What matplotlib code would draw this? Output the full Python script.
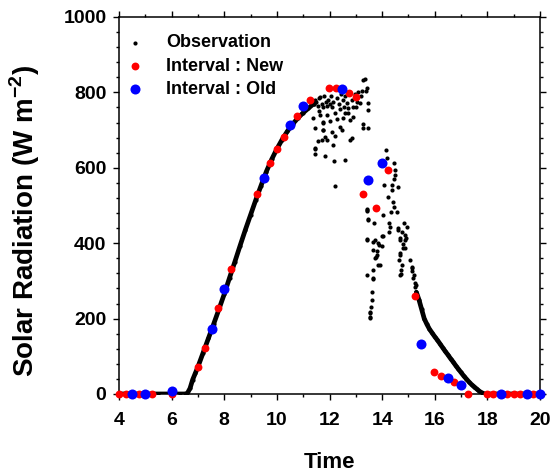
import matplotlib
matplotlib.use("Agg")
import matplotlib.pyplot as plt
from matplotlib.ticker import MultipleLocator

plt.rcParams['font.family'] = ['Liberation Sans', 'DejaVu Sans']
plt.rcParams['font.weight'] = 'bold'
plt.rcParams['mathtext.fontset'] = 'custom'
plt.rcParams['mathtext.bf'] = 'Liberation Sans:bold'
plt.rcParams['mathtext.rm'] = 'Liberation Sans:bold'

# --- Observation : parties continues (lecture du graphique) ---
rise_t = [4.0, 4.5, 5.0, 5.5, 6.0, 6.3, 6.5, 6.6, 6.7, 6.8, 6.9, 7.0, 7.2, 7.4, 7.6,
          7.8, 8.0, 8.2, 8.4, 8.6, 8.8, 9.0, 9.2, 9.4, 9.6, 9.8, 10.0, 10.2,
          10.4, 10.6, 10.8, 11.0, 11.2, 11.4]
rise_v = [0, 0, 0, 0, 0, 0, 0, 2, 15, 38, 55, 72, 110, 148, 186,
          225, 265, 308, 350, 393, 435, 475, 515, 553, 590, 622, 650, 675,
          697, 716, 732, 746, 758, 770]

fall_t = [15.3, 15.4, 15.5, 15.6, 15.7, 15.8, 15.9, 16.0, 16.1, 16.2, 16.3, 16.4,
          16.5, 16.6, 16.7, 16.8, 16.9, 17.0, 17.1, 17.2, 17.3, 17.4, 17.5,
          17.6, 17.7, 17.8, 17.9, 18.2, 18.6, 19.0, 19.5, 20.0]
fall_v = [270, 250, 225, 200, 185, 172, 162, 152, 143, 133, 123, 113,
          104, 94, 85, 75, 66, 57, 48, 40, 32, 25, 19,
          13, 7, 3, 0, 0, 0, 0, 0, 0]

# --- Observation : nuages de points ---
scat_t = [11.4, 11.45, 11.5, 11.55, 11.6, 11.64, 11.7, 11.75, 11.8, 11.85, 11.9, 11.95,
          12.0, 12.05, 12.1, 12.15, 12.2, 12.3, 12.35, 12.38, 12.45, 12.5, 12.55, 12.6,
          12.65, 12.7, 12.72, 12.85, 12.9, 12.95, 13.05, 13.1, 13.16, 13.2, 13.25, 13.29,
          13.33, 13.39, 13.41, 13.45, 13.48, 13.26, 13.47, 13.29,
          11.39, 11.64, 11.77, 11.45, 11.77, 11.83, 11.70, 11.45, 11.45, 11.45, 11.55,
          11.89, 11.83, 11.74, 11.74, 12.08, 12.15, 12.21, 12.18, 12.4, 12.46, 12.52,
          12.59, 12.78, 12.84, 12.78, 12.21, 11.6, 11.9, 12.0, 12.3, 12.6, 12.9, 13.0,
          13.41, 13.44, 13.47, 13.41, 13.47, 13.69, 14.14, 14.2, 14.46, 14.49, 14.5,
          14.45, 14.62, 14.37, 14.08, 14.37, 14.24, 14.43, 14.46, 14.58, 14.34, 14.02,
          14.27, 14.3, 14.27, 14.02, 13.44, 13.41, 13.67, 13.98, 13.73, 13.85, 13.9,
          13.98, 13.67, 13.8, 13.77, 13.79, 13.73, 13.86, 13.92, 13.67, 13.41, 13.64,
          13.67, 13.6, 13.6, 13.57, 13.54, 13.52, 13.54, 13.52,
          14.82, 14.95, 14.62, 14.62, 14.75, 14.87, 14.9, 14.68, 14.68, 14.87, 14.8,
          14.81, 14.87, 14.68, 14.68, 14.65, 14.75, 14.7, 14.71, 14.68, 15.06, 15.12,
          15.12, 15.15, 15.21, 15.18, 15.25, 15.25, 15.29]
scat_v = [770, 780, 775, 765, 785, 787, 770, 760, 790, 775, 765, 780,
          770, 790, 760, 775, 745, 785, 770, 757, 795, 780, 760, 790,
          771, 745, 759, 780, 760, 795, 775, 800, 771, 790, 805, 833,
          835, 804, 811, 771, 753, 716, 705, 705,
          732, 740, 718, 705, 700, 682, 674, 652, 649, 636, 671,
          675, 632, 722, 700, 696, 660, 684, 618, 709, 700, 732,
          621, 674, 678, 727, 552, 750, 740, 725, 730, 745, 735, 760,
          490, 485, 462, 487, 464, 453, 646, 625, 614, 594, 580,
          570, 550, 555, 555, 541, 523, 510, 495, 484, 482, 475,
          453, 444, 429, 420, 411, 408, 404, 418, 408, 400, 395,
          392, 382, 378, 364, 369, 360, 342, 342, 329, 316, 304,
          307, 271, 249, 232, 214, 201, 218, 205,
          453, 444, 440, 435, 430, 422, 415, 413, 408, 408, 398,
          387, 387, 374, 369, 355, 342, 330, 318, 316, 355, 338,
          334, 325, 316, 308, 295, 285, 289]

# --- Interval : New ---
new_t = [4.0, 4.25, 4.75, 5.25, 6.0, 7.0, 7.27, 7.76, 8.26, 9.25, 9.74, 10.0, 10.27,
         10.77, 11.26, 11.98, 12.25, 12.75, 13.0, 13.28, 13.77, 14.23, 15.25, 15.98,
         16.24, 16.75, 17.27, 18.0, 18.2, 18.75, 19.0, 19.25, 19.75]
new_v = [0, 0, 0, 0, 0, 72, 122, 227, 331, 530, 613, 650, 682,
         738, 780, 811, 811, 798, 788, 531, 494, 594, 260, 58,
         48, 32, 0, 0, 0, 0, 0, 0, 0]

# --- Interval : Old ---
old_t = [4.5, 5.0, 6.0, 7.53, 7.99, 9.51, 10.5, 11.0, 12.48, 13.47, 14.0, 15.48,
         16.5, 17.0, 18.5, 19.5, 20.0]
old_v = [0, 0, 8, 172, 278, 573, 714, 763, 809, 568, 614, 133,
         42, 24, 0, 0, 0]

fig = plt.figure(figsize=(5.55, 4.72), dpi=100)
ax = fig.add_axes([0.2144, 0.1653, 0.7586, 0.7987])

# Observation
for tt, vv in [(rise_t, rise_v), (fall_t, fall_v)]:
    ax.plot(tt, vv, color='black', lw=3.4, solid_capstyle='round', zorder=2)
ax.scatter(scat_t, scat_v, s=9, color='black', lw=0, zorder=2)
ax.scatter(rise_t + fall_t, rise_v + fall_v, s=9, color='black', lw=0,
           zorder=2, label='Observation')

ax.scatter(new_t, new_v, s=32, color='#ff0000', lw=0, zorder=3,
           clip_on=False, label='Interval : New')
ax.scatter(old_t, old_v, s=52, color='#0000ff', lw=0, zorder=4,
           clip_on=False, label='Interval : Old')

ax.set_xlim(4, 20)
ax.set_ylim(0, 1000)
ax.xaxis.set_major_locator(MultipleLocator(2))
ax.xaxis.set_minor_locator(MultipleLocator(1))
ax.yaxis.set_major_locator(MultipleLocator(200))
ax.yaxis.set_minor_locator(MultipleLocator(40))
ax.tick_params(which='both', direction='out', top=True, right=True,
               labelsize=14, width=1)
ax.tick_params(which='major', length=4)
ax.tick_params(which='minor', length=2.5)
ax.tick_params(axis='x', which='major', pad=9)
ax.tick_params(axis='y', which='major', pad=5)
for lab in ax.get_xticklabels() + ax.get_yticklabels():
    lab.set_fontweight('bold')
for sp in ax.spines.values():
    sp.set_linewidth(1.1)

ax.set_xlabel('Time', fontsize=16, fontweight='bold', va='top')
ax.set_ylabel(r'Solar Radiation (W m$^{\mathbf{-2}}$)', fontsize=20,
              fontweight='bold')
ax.xaxis.set_label_coords(0.5, -0.155)
ax.yaxis.set_label_coords(-0.183, 0.46)

ax.legend(loc='upper left', bbox_to_anchor=(0.0, 0.973), frameon=False,
          handlelength=1.0, handletextpad=1.2, labelspacing=0.35,
          borderaxespad=0.0, borderpad=0.4, scatterpoints=1,
          prop={'weight': 'bold', 'size': 13})

fig.savefig('out.png', dpi=100)
